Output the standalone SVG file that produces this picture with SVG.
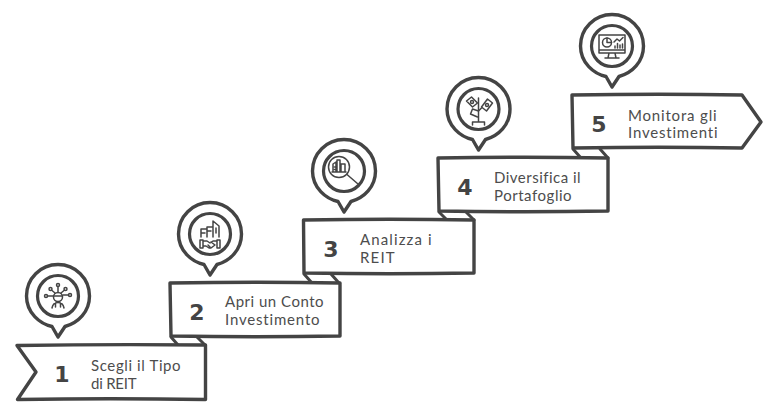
<svg xmlns="http://www.w3.org/2000/svg" width="778" height="403" viewBox="0 0 778 403">
<style>
.box{fill:#fff;stroke:#444;stroke-width:3.4;stroke-linejoin:round;stroke-linecap:round}
.fold{fill:#fff;stroke:#444;stroke-width:3;stroke-linejoin:round;stroke-linecap:round}
.pin{fill:#fff;stroke:#444;stroke-width:3.4;stroke-linejoin:round}
.inner{fill:#fff;stroke:#444;stroke-width:3.2}
.ic{fill:none;stroke:#444;stroke-width:1.5;stroke-linejoin:round;stroke-linecap:round}
.num{font-family:"DejaVu Sans",sans-serif;font-weight:700;font-size:22px;fill:#444;text-anchor:middle}
.lbl{font-family:"Lato","Noto Sans",sans-serif;font-size:15px;fill:#4d4d4d;letter-spacing:.4px}
</style>
<defs>
<g id="pinshape">
<path class="pin" d="M-6,30.500C-18,28-31.500,17-31.500,0C-31.500,-17.500-17.500,-31.500 0,-31.500C17.500,-31.500 31.500,-17.500 31.500,0C31.500,16 20,27 7,30.500L0,41Z"/>
<circle class="inner" cx="0" cy="0" r="20.500"/>
</g>
</defs>
<rect width="778" height="403" fill="#fff"/>
<g id="connectors">
<path class="fold" d="M171,337L178,345M197,337L205,345"/>
<path class="fold" d="M304,274L312,283M331,274L339,283"/>
<path class="fold" d="M439,212L447,220M466,212L474,220"/>
<path class="fold" d="M573,149L581,158M600,149L608,158"/>
</g>
<g id="node1">
<path class="box" d="M17,345.500Q110,344 205.500,345L205.500,399.500Q110,398 17.500,399.500L36,372Z"/>
<text class="num" x="62" y="382">1</text>
<text class="lbl" x="91" y="371" textLength="90">Scegli il Tipo</text>
<text class="lbl" x="91" y="389" textLength="46">di REIT</text>
<use href="#pinshape" x="58" y="296"/>
<g class="ic" transform="translate(58,296)">
<circle cx="0" cy="1" r="4.500"/><path d="M-4.500,0H4.500M-6,12Q-5,6.500 0,6.500Q5,6.500 6,12M-2.500,7L-2.500,11M2.500,7L2.500,11"/>
<circle cx="-7.500" cy="-7" r="1.500"/><circle cx="0" cy="-11" r="1.500"/><circle cx="7.500" cy="-7" r="1.500"/><circle cx="-12" cy="0" r="1.500"/><circle cx="12" cy="-1" r="1.500"/>
<path d="M-6,-5.500L-3,-3M0,-9.500V-3.500M6,-5.500L3,-3M-10.500,0H-5M10.500,-1H5"/>
</g>
</g>
<g id="node2">
<path class="box" d="M170,283Q260,281.500 340,283L340,336Q255,337.500 171,336Z"/>
<text class="num" x="197" y="320">2</text>
<text class="lbl" x="225" y="307" textLength="99">Apri un Conto</text>
<text class="lbl" x="225" y="325" textLength="95">Investimento</text>
<use href="#pinshape" x="210" y="234"/>
<g class="ic" transform="translate(210,234)">
<path d="M-9,3V-5H-4M-9,-1H-5M-3,3V-7H2M-3,-3H1M3,3V-13L9,-8V3M6,-6V-1"/>
<path d="M-10,6H-7V14H-10ZM10,6H7V14H10ZM-7,7H-3L0,9L3,7H7M-7,12H-4L-1,14H1L5,11L1,8M-2,11L0,13"/>
</g>
</g>
<g id="node3">
<path class="box" d="M303.500,220Q390,218.500 474,220L474,273Q390,274.500 304,273Z"/>
<text class="num" x="331" y="257">3</text>
<text class="lbl" x="360" y="245" textLength="72">Analizza i</text>
<text class="lbl" x="360" y="263" textLength="35">REIT</text>
<use href="#pinshape" x="344" y="171"/>
<g class="ic" transform="translate(344,171)">
<circle cx="-5" cy="-4" r="10.500"/><path d="M3,3.500L14,13"/>
<path d="M-11,1V-7L-8,-9V1M-7,-11H-4V1H-7ZM-3,-7H1V1H-3ZM-9.500,-4H-8.500M-9.500,-1.500H-8.500M-12,1H2"/>
</g>
</g>
<g id="node4">
<path class="box" d="M438,158Q525,156.500 608,158L608,211Q525,212.500 439,211Z"/>
<text class="num" x="465" y="195">4</text>
<text class="lbl" x="494" y="183" textLength="87">Diversifica il</text>
<text class="lbl" x="494" y="201" textLength="78">Portafoglio</text>
<use href="#pinshape" x="478.500" y="109"/>
<g class="ic" transform="translate(478.500,109)">
<path d="M0,13V-11M-6,13V16M6,13V16M-6,13H6"/>
<path d="M-12,-8L-7,-12L-1,-6L-6,-2ZM3,-2L9,-10L14,-6L8,2Z"/>
<circle cx="-6.500" cy="-7" r="1.500"/><circle cx="8.500" cy="-4" r="1.500"/>
<path d="M0,2L-6,0L-8,5L-1,8M3,-1L0,2"/>
</g>
</g>
<g id="node5">
<path class="box" d="M572,95Q660,93.500 742,95L761,122L742,148Q660,146.500 573,148Z"/>
<text class="num" x="599" y="132">5</text>
<text class="lbl" x="628" y="121" textLength="89">Monitora gli</text>
<text class="lbl" x="628" y="138" textLength="90">Investimenti</text>
<use href="#pinshape" x="612" y="46"/>
<g class="ic" transform="translate(612,46)">
<path d="M-13,-11H13V7H-13ZM-13,4H13M-3,7L-4,12M3,7L4,12M-7,12H7"/>
<circle cx="-5" cy="-3.500" r="4.500"/><path d="M-5,-8V-3.500H-0.500"/>
<path d="M2,-4L5,-7L7.500,-5L11,-8.500M3,2V0M5.500,2V-2.500M8,2V-1M10.500,2V-2"/>
</g>
</g>
</svg>
